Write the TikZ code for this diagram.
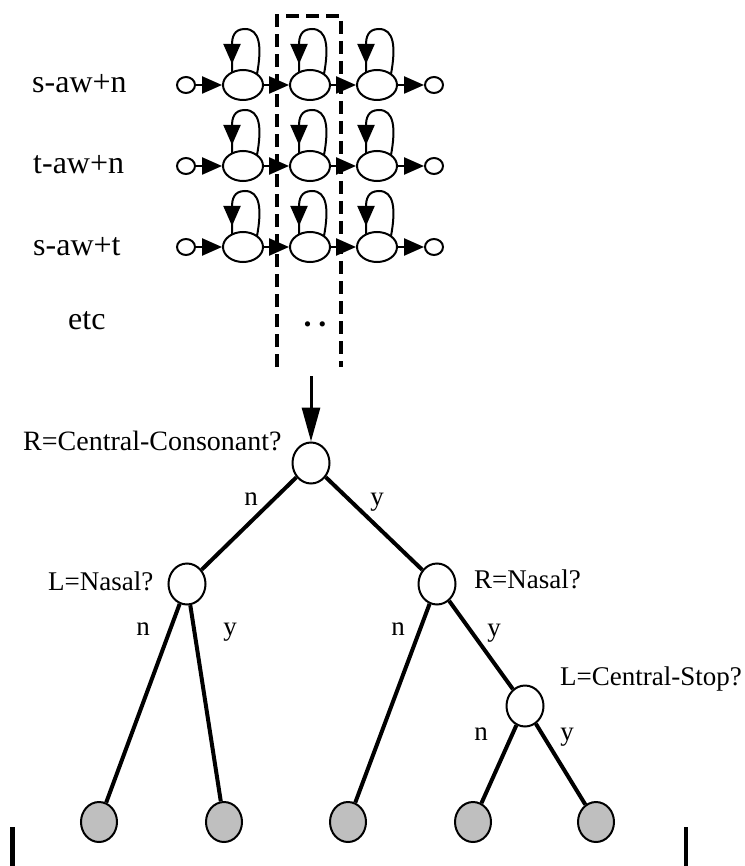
\documentclass[tikz,border=0pt]{standalone}
\usepackage{fontspec}
\setmainfont{Liberation Serif}
\usetikzlibrary{arrows.meta,shapes.geometric}

\tikzset{
  toplab/.style={font=\fontsize{32}{36}\selectfont, anchor=base west, inner sep=0pt},
  qlab/.style={font=\fontsize{28}{32}\selectfont, anchor=base west, inner sep=0pt},
  brlab/.style={font=\fontsize{27}{30}\selectfont, anchor=base, inner sep=0pt},
  state/.style={draw, ellipse, line width=2pt, minimum width=40pt, minimum height=30pt, inner sep=0pt},
  term/.style={draw, ellipse, line width=2pt, minimum width=18pt, minimum height=16pt, inner sep=0pt},
  trans/.style={line width=2.4pt, -{Triangle[length=20pt,width=17pt]}},
  selfloop/.style={line width=2pt},
  qnode/.style={draw, ellipse, line width=2pt, minimum width=37pt, minimum height=41pt, inner sep=0pt, fill=white},
  leaf/.style={draw, ellipse, line width=2pt, minimum width=36pt, minimum height=40pt, inner sep=0pt, fill=black!25},
  branch/.style={line width=4pt},
  dropline/.style={line width=3pt, -{Triangle[length=34pt,width=18pt]}},
  boxline/.style={line width=3.4pt, dash pattern=on 13pt off 7pt},
}

\begin{document}
\begin{tikzpicture}[x=1pt, y=-1pt]
\useasboundingbox (0,0) rectangle (744,866);

% triphone labels
\node[toplab] (lab1) at (32,93) {s-aw+n};
\node[toplab] (lab2) at (33,174) {t-aw+n};
\node[toplab] (lab3) at (33,255) {s-aw+t};
\node[toplab] (lab4) at (68,329) {etc};

% three-state models, one per row
\foreach \r/\cy in {1/85, 2/166, 3/247} {
  \node[term]  (in\r)  at (186,\cy) {};
  \node[state] (a\r)   at (243,\cy) {};
  \node[state] (b\r)   at (310,\cy) {};
  \node[state] (c\r)   at (377,\cy) {};
  \node[term]  (out\r) at (434,\cy) {};
  \draw[trans] (in\r) -- (a\r);
  \draw[trans] (a\r) -- (b\r);
  \draw[trans] (b\r) -- (c\r);
  \draw[trans] (c\r) -- (out\r);
  % self-transition loop above each emitting state
  \foreach \s/\cx in {a/243, b/310, c/377} {
    \draw[selfloop] (\cx+14,\cy-11)
      .. controls (\cx+19,\cy-38) and (\cx+17,\cy-56) .. (\cx+2,\cy-56)
      .. controls (\cx-9,\cy-56) and (\cx-11,\cy-48) .. (\cx-11,\cy-40)
      -- (\cx-11,\cy-12);
    \draw[selfloop, -{Triangle[length=20pt,width=17pt]}] (\cx-11,\cy-43) -- (\cx-11,\cy-21);
  }
}

% dashed frame around the middle states
\draw[boxline] (277,367) -- (277,16) -- (341,16) -- (341,367);
\node[font=\fontsize{32}{36}\selectfont, anchor=base, inner sep=0pt] (dots) at (315,326) {\textbf{.}\hspace{7pt}\textbf{.}};

% decision tree
\node[qnode] (root) at (311,463) {};
\node[qnode] (ln)   at (187,584) {};
\node[qnode] (rn)   at (437,584) {};
\node[qnode] (cs)   at (525,706) {};
\node[leaf]  (l1)   at (99,822) {};
\node[leaf]  (l2)   at (224,822) {};
\node[leaf]  (l3)   at (348,822) {};
\node[leaf]  (l4)   at (473,822) {};
\node[leaf]  (l5)   at (596,822) {};

\coordinate (drop) at (311,376);
\draw[dropline] (drop) -- (root);

\draw[branch] (root) -- (ln);
\draw[branch] (root) -- (rn);
\draw[branch] (ln) -- (l1);
\draw[branch] (ln) -- (l2);
\draw[branch] (rn) -- (l3);
\draw[branch] (rn) -- (cs);
\draw[branch] (cs) -- (l4);
\draw[branch] (cs) -- (l5);

\node[qlab] (q1) at (23,450) {R=Central-Consonant?};
\node[qlab, font=\fontsize{27}{30}\selectfont] (q2) at (48,590) {L=Nasal?};
\node[qlab, font=\fontsize{27}{30}\selectfont] (q3) at (474,588) {R=Nasal?};
\node[qlab, font=\fontsize{27}{30}\selectfont] (q4) at (560,685) {L=Central-Stop?};

\node[brlab] (rootn) at (251,505) {n};
\node[brlab] (rooty) at (377,505) {y};
\node[brlab] (lnn)   at (143,635) {n};
\node[brlab] (lny)   at (230,635) {y};
\node[brlab] (rnn)   at (398,635) {n};
\node[brlab] (rny)   at (494,636) {y};
\node[brlab] (csn)   at (481,740) {n};
\node[brlab] (csy)   at (567,740) {y};

% page edge marks
\coordinate (barL) at (12,827);
\coordinate (barR) at (686,827);
\draw[line width=5pt] (barL) -- (12,866);
\draw[line width=4pt] (barR) -- (686,866);
\end{tikzpicture}
\end{document}
